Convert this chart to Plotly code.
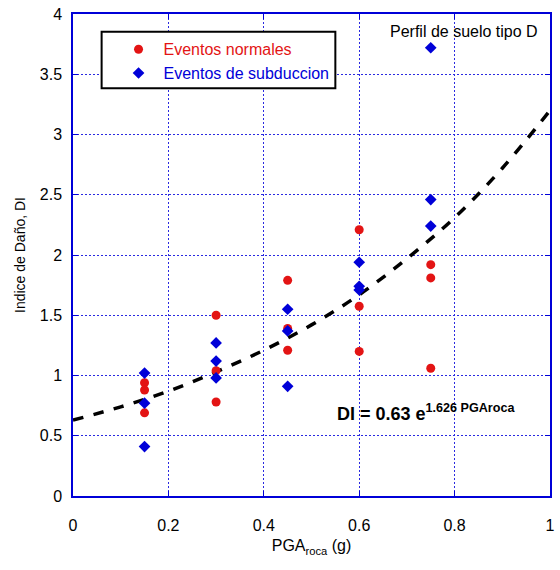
import plotly.graph_objects as go

# Data
normal_x = [0.15, 0.15, 0.15, 0.30, 0.30, 0.30, 0.45, 0.45, 0.45, 0.60, 0.60, 0.60, 0.75, 0.75, 0.75]
normal_y = [0.94, 0.88, 0.69, 1.50, 1.04, 0.78, 1.79, 1.39, 1.21, 2.21, 1.575, 1.20, 1.92, 1.81, 1.06]

subd_x = [0.15, 0.15, 0.15, 0.30, 0.30, 0.30, 0.45, 0.45, 0.45, 0.60, 0.60, 0.60, 0.75, 0.75, 0.75]
subd_y = [1.02, 0.77, 0.41, 1.27, 1.12, 0.98, 1.55, 1.37, 0.91, 1.94, 1.74, 1.71, 3.72, 2.46, 2.24]

fit_x = [0.0, 0.1, 0.2, 0.3, 0.4, 0.5, 0.6, 0.7, 0.8, 0.9, 1.0]
fit_y = [0.63, 0.74, 0.87, 1.03, 1.21, 1.42, 1.67, 1.97, 2.31, 2.72, 3.20]

x_ticks = [0, 0.2, 0.4, 0.6, 0.8, 1]
y_ticks = [0, 0.5, 1, 1.5, 2, 2.5, 3, 3.5, 4]

RED = "#e31414"
BLUE = "#0000d8"
FONT = "Liberation Sans, Arial, sans-serif"

fig = go.Figure()
fig.add_trace(go.Scatter(x=fit_x, y=fit_y, mode="lines", line=dict(color="black", width=3.5, dash="dash", shape="spline"),
                         showlegend=False, hoverinfo="skip"))
fig.add_trace(go.Scatter(x=normal_x, y=normal_y, mode="markers", name="<span style='color:#e31414'>Eventos normales</span>",
                         legendgroup="n", marker=dict(symbol="circle", size=9, color=RED)))
fig.add_trace(go.Scatter(x=subd_x, y=subd_y, mode="markers", name="<span style='color:#0000d8'>Eventos de subduccion</span>",
                         legendgroup="s", marker=dict(symbol="diamond", size=9, color=BLUE)))

axis_common = dict(showgrid=True, gridcolor="#2a2ae0", griddash="2px,2px", gridwidth=1,
                   showline=True, linecolor=BLUE, linewidth=1.5, mirror="ticks",
                   ticks="inside", ticklen=5, tickcolor=BLUE, zeroline=False,
                   tickfont=dict(family=FONT, size=16, color="black"))

fig.update_layout(
    width=560, height=570,
    paper_bgcolor="white", plot_bgcolor="white",
    margin=dict(l=73, r=5, t=14, b=74),
    font=dict(family=FONT, color="black"),
    xaxis=dict(range=[0, 1], tickvals=x_ticks, ticktext=["0", "0.2", "0.4", "0.6", "0.8", "1"], ticklabelstandoff=14,
               title=dict(text="PGA<sub>roca</sub> (g)", font=dict(size=16, family=FONT), standoff=7), **axis_common),
    yaxis=dict(range=[0, 4], tickvals=y_ticks, ticktext=["0", "0.5", "1", "1.5", "2", "2.5", "3", "3.5", "4"], ticklabelstandoff=6,
               title=dict(text="Indice de Daño, DI", font=dict(size=14, family=FONT), standoff=11), **axis_common),
    legend=dict(x=0.085, y=0.962, xanchor="left", yanchor="top", bgcolor="rgba(0,0,0,0)",
                borderwidth=0, font=dict(size=16, family=FONT), itemwidth=40, tracegroupgap=0),
    showlegend=True,
    shapes=[dict(type="rect", xref="paper", yref="paper", x0=0.060, x1=0.55, y0=0.846, y1=0.963,
                 line=dict(color="black", width=2), fillcolor="white", layer="above")],
    annotations=[
        dict(x=0.979, y=0.985, xref="paper", yref="paper", xanchor="right", yanchor="top",
             text="Perfil de suelo tipo D", showarrow=False, font=dict(size=16, family=FONT, color="black")),
        dict(x=0.55, y=0.174, xref="paper", yref="paper", xanchor="left", yanchor="middle",
             text="<b>DI = 0.63 e<sup>1.626 PGAroca</sup></b>", showarrow=False,
             font=dict(size=18, family=FONT, color="black")),
    ],
)

fig.write_html("out.html", config={"displayModeBar": False},
               post_script="document.body.style.margin='0';document.body.style.overflow='hidden';")
